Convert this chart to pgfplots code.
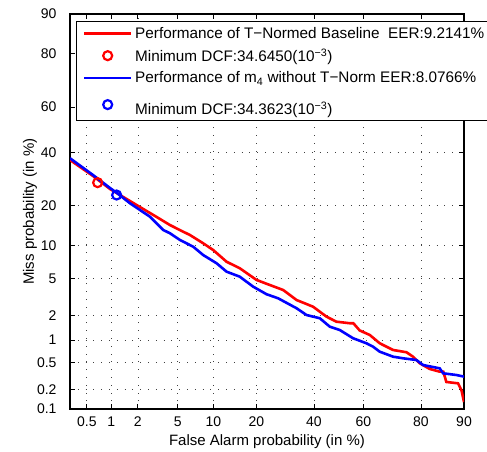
\documentclass[border=0pt]{standalone}
\usepackage{fontspec}
\setmainfont{Liberation Sans}
\usepackage{pgfplots}
\pgfplotsset{compat=1.18}
\pgfplotsset{
  detline/.style={legend image code/.code={\path[draw=none,fill=none] (-5pt,0pt) -- (49pt,0pt);\draw[##1] (0pt,0pt) -- (47pt,0pt);}},
  detmark/.style={legend image code/.code={\path[draw=none,fill=none] (-5pt,0pt) -- (49pt,0pt);\draw[##1] plot coordinates {(23.5pt,0pt)};}},
}
\begin{document}
\begin{tikzpicture}
\begin{axis}[
  name=det,
  width=394pt, height=395pt, scale only axis,
  xmin=-2.7478, xmax=1.2816, ymin=-3.0902, ymax=1.2816,
  xtick={-2.5758,-2.3263,-2.0537,-1.6449,-1.2816,-0.8416,-0.2533,0.2533,0.8416,1.2816},
  xticklabels={0.5,1,2,5,10,20,40,60,80,90},
  ytick={-3.0902,-2.8782,-2.5758,-2.3263,-2.0537,-1.6449,-1.2816,-0.8416,-0.2533,0.2533,0.8416,1.2816},
  yticklabels={0.1,0.2,0.5,1,2,5,10,20,40,60,80,90},
  grid=major,
  major grid style={black!75, line width=0.7pt, dash pattern=on 0.8pt off 7pt},
  tick align=inside, major tick length=5pt,
  tick style={black, line width=0.8pt},
  axis line style={line width=1.1pt},
  tick label style={font=\fontsize{14}{16}\selectfont},
  xticklabel style={yshift=-4pt},
  yticklabel style={xshift=-10pt},
  label style={font=\fontsize{15}{18}\selectfont},
  xlabel={False Alarm probability (in \%)},
  ylabel={Miss probability (in \%)},
  xlabel style={at={(axis description cs:0.5,-0.083)}, anchor=center},
  ylabel style={at={(axis description cs:-0.1015,0.5)}, anchor=center},
  legend cell align=left,
  legend style={at={(axis description cs:0,1)}, anchor=north west,
    xshift=5.7pt, yshift=-7.5pt, draw=black, line width=1pt, fill=white,
    font=\fontsize{15.3}{18}\selectfont, row sep=5pt, inner sep=3pt},
]
\addplot[red, line width=2.6pt, detline] coordinates {
(-2.748,-0.334) (-2.513,-0.511) (-2.339,-0.655) (-2.135,-0.788) (-1.828,-0.987)
(-1.726,-1.054) (-1.590,-1.128) (-1.522,-1.164) (-1.386,-1.256) (-1.284,-1.330)
(-1.147,-1.460) (-1.011,-1.533) (-0.840,-1.662) (-0.704,-1.718) (-0.568,-1.773)
(-0.431,-1.884) (-0.262,-1.958) (-0.125,-2.068) (-0.023,-2.124) (0.113,-2.141)
(0.150,-2.141) (0.215,-2.221) (0.318,-2.271) (0.420,-2.363) (0.556,-2.437)
(0.693,-2.462) (0.760,-2.511) (0.829,-2.584) (0.931,-2.647) (1.033,-2.677)
(1.070,-2.677) (1.101,-2.791) (1.220,-2.806) (1.255,-2.880) (1.2816,-3.013)
};
\addlegendentry{Performance of T−Normed Baseline\ \ EER:9.2141\%}
\addplot[red, only marks, mark=o, mark size=4.5pt, line width=2.2pt, detmark] coordinates {(-2.465,-0.585)};
\addlegendentry{Minimum DCF:34.6450(10\textsuperscript{−3})}
\addplot[blue, line width=2.6pt, detline] coordinates {
(-2.748,-0.315) (-2.513,-0.500) (-2.339,-0.644) (-2.268,-0.699) (-2.135,-0.813)
(-1.930,-0.962) (-1.794,-1.109) (-1.726,-1.145) (-1.624,-1.219) (-1.488,-1.294)
(-1.386,-1.386) (-1.249,-1.477) (-1.147,-1.570) (-1.011,-1.626) (-0.875,-1.736)
(-0.738,-1.820) (-0.619,-1.865) (-0.568,-1.895) (-0.431,-1.975) (-0.329,-2.050)
(-0.193,-2.086) (-0.091,-2.179) (0.011,-2.216) (0.147,-2.307) (0.284,-2.363)
(0.351,-2.400) (0.420,-2.456) (0.556,-2.511) (0.658,-2.529) (0.795,-2.548)
(0.862,-2.603) (1.033,-2.640) (1.067,-2.695) (1.204,-2.714) (1.2816,-2.732)
};
\addlegendentry{Performance of m\textsubscript{4} without T−Norm EER:8.0766\%}
\addplot[blue, only marks, mark=o, mark size=4.5pt, line width=2.2pt, detmark] coordinates {(-2.271,-0.722)};
\addlegendentry{\rule{0pt}{21pt}Minimum DCF:34.3623(10\textsuperscript{−3})}
\end{axis}
\pgfresetboundingbox
\path ([shift={(-70pt,-43pt)}]det.south west) rectangle ([shift={(23pt,14pt)}]det.north east);
\end{tikzpicture}
\end{document}
